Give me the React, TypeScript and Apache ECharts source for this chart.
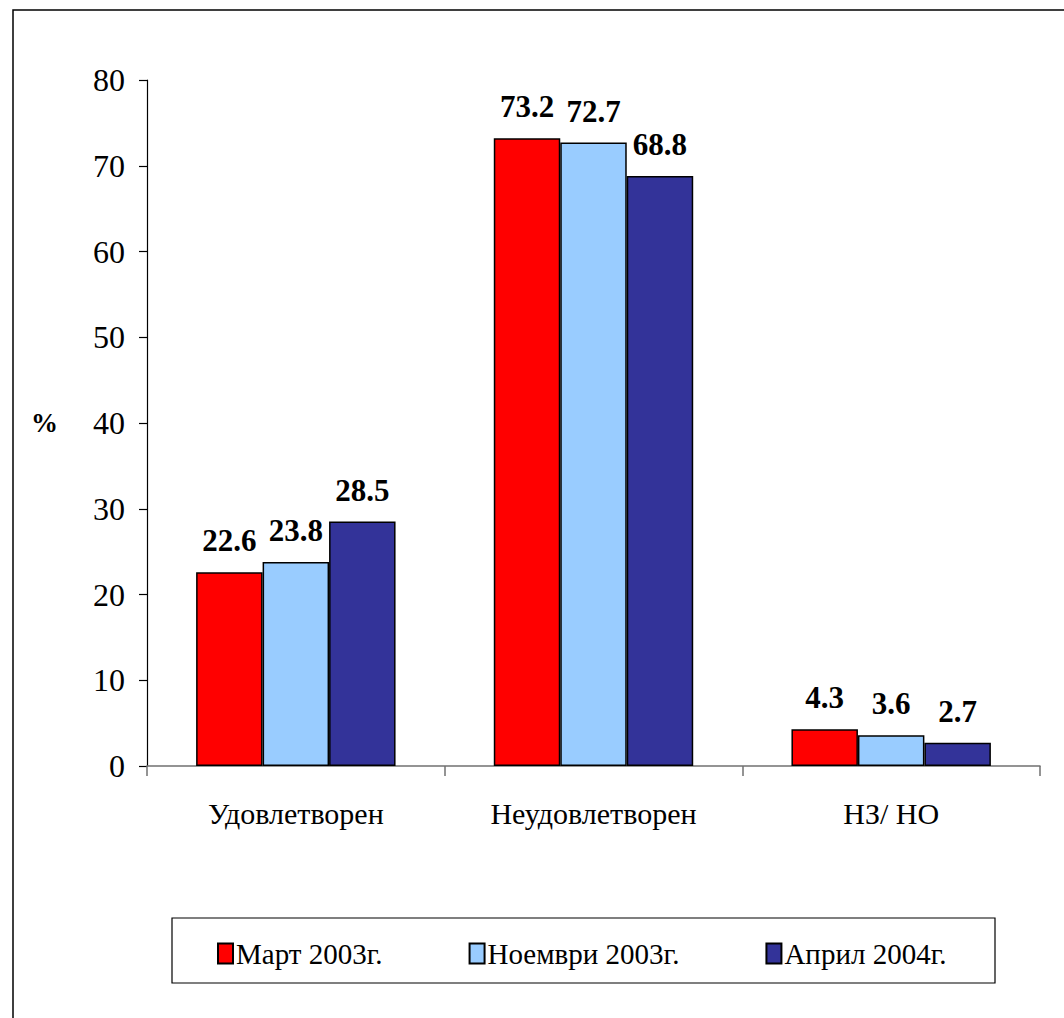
import React, { useEffect, useRef } from "react";
import * as echarts from "echarts";

const categories = ["Удовлетворен", "Неудовлетворен", "НЗ/ НО"];
const seriesNames = ["Март 2003г.", "Ноември 2003г.", "Април 2004г."];
const mart2003 = [22.6, 73.2, 4.3];
const noemvri2003 = [23.8, 72.7, 3.6];
const april2004 = [28.5, 68.8, 2.7];
const colors = ["#FF0000", "#99CCFF", "#333399"];
const yTicks = { min: 0, max: 80, interval: 10 };

const FONT = "Liberation Serif";

export default function App() {
  const ref = useRef<HTMLDivElement>(null);
  useEffect(() => {
    if (!ref.current) return;
    const chart = echarts.init(ref.current, null, { renderer: "svg" });
    const data = [mart2003, noemvri2003, april2004];
    chart.setOption({
      animation: false,
      backgroundColor: "#fff",
      textStyle: { fontFamily: FONT },
      grid: { left: 147, right: 24, top: 80, bottom: 252, containLabel: false },
      xAxis: {
        type: "category",
        data: categories,
        axisLine: { lineStyle: { color: "#707070", width: 1.5 } },
        axisTick: { show: true, length: 10, lineStyle: { color: "#707070", width: 1.5 } },
        axisLabel: { fontFamily: FONT, fontSize: 30, color: "#000", margin: 32 },
      },
      yAxis: {
        type: "value",
        min: yTicks.min,
        max: yTicks.max,
        interval: yTicks.interval,
        name: "%",
        nameLocation: "middle",
        nameRotate: 0,
        nameGap: 89,
        nameTextStyle: { fontFamily: FONT, fontSize: 27, fontWeight: "bold", color: "#000", align: "right" },
        axisLine: { show: true, lineStyle: { color: "#000", width: 1.2 } },
        axisTick: { show: true, length: 8, lineStyle: { color: "#000", width: 1.2 } },
        axisLabel: { fontFamily: FONT, fontSize: 32, color: "#000", margin: 22 },
        splitLine: { show: false },
      },
      legend: {
        left: 212,
        top: 934,
        itemWidth: 15,
        itemHeight: 20,
        itemGap: 86,
        icon: "rect",
        textStyle: { fontFamily: FONT, fontSize: 29, color: "#000", padding: [0, 0, 0, -2] },
        data: seriesNames,
      },
      graphic: [
        {
          type: "rect",
          shape: { x: 13, y: 10, width: 1200, height: 1200 },
          style: { fill: "none", stroke: "#000", lineWidth: 1.5 },
          silent: true,
        },
        {
          type: "rect",
          shape: { x: 172, y: 918, width: 823, height: 65 },
          style: { fill: "none", stroke: "#000", lineWidth: 1.2 },
          silent: true,
          z: -1,
        },
      ],
      series: seriesNames.map((name, i) => ({
        name,
        type: "bar",
        data: data[i],
        barGap: "0%",
        barCategoryGap: "33%",
        itemStyle: { color: colors[i], borderColor: "#000", borderWidth: 1.5 },
        label: {
          show: true,
          position: "top",
          distance: 16,
          fontFamily: FONT,
          fontSize: 31,
          fontWeight: "bold",
          color: "#000",
          formatter: (p: any) => p.value.toFixed(1),
        },
      })),
    });
    return () => chart.dispose();
  }, []);
  return (
    <div
      ref={ref}
      style={{ position: "absolute", left: 0, top: 0, width: 1064, height: 1018 }}
    />
  );
}
